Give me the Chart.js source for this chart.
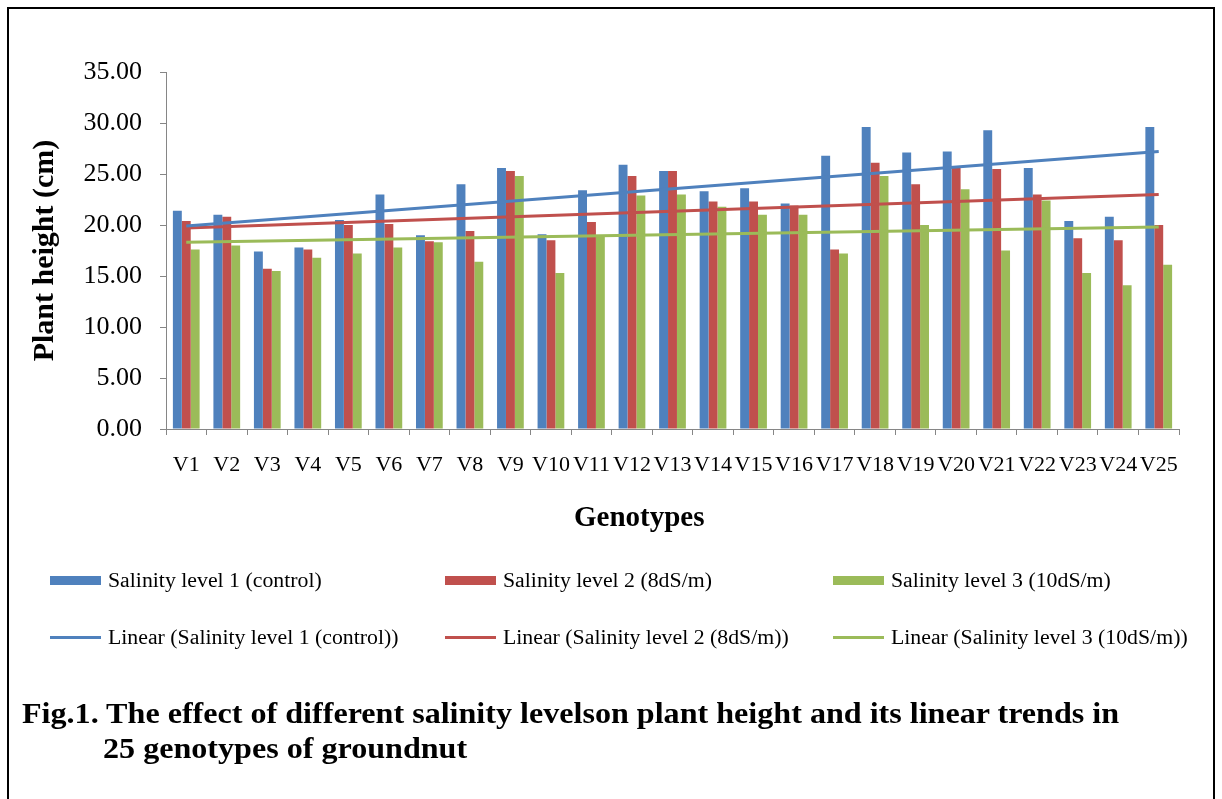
<!DOCTYPE html>
<html>
<head>
<meta charset="utf-8">
<title>Plant height under salinity</title>
<script src="https://cdn.jsdelivr.net/npm/chart.js@4.4.0/dist/chart.umd.min.js"></script>
<style>
  body { margin: 0; background: #fff; font-family: "Liberation Serif", "Times New Roman", serif; }
  #wrap { position: relative; width: 1222px; height: 799px; overflow: hidden; }
  #frame { position: absolute; left: 7px; top: 7px; width: 1208px; height: 800px; border: 2px solid #000; box-sizing: border-box; pointer-events: none; }
  #chartBox { position: absolute; left: 0; top: 0; width: 1222px; height: 799px; }
  .lg { position: absolute; display: flex; align-items: center; font-size: 20px; color: #000; white-space: nowrap; }
  .lg .sw { width: 51px; margin-right: 7px; flex: none; }
  .lg .tx { display: inline-block; transform: scaleX(1.09); transform-origin: left center; }
  #xTitle { position: absolute; left: 574px; top: 500px; font-weight: bold; font-size: 29px; color: #000; }
  .cap { position: absolute; font-weight: bold; font-size: 30px; color: #000; white-space: nowrap; transform: scaleX(1.07); transform-origin: left top; }
</style>
</head>
<body>
<div id="wrap">
  <div id="chartBox"><canvas id="chartHeight"></canvas></div>
  <div id="legend"></div>
  <div id="xTitle">Genotypes</div>
  <div class="cap" style="left:22px; top:696px;">Fig.1. The effect of different salinity levelson plant height and its linear trends in</div>
  <div class="cap" style="left:103px; top:731px;">25 genotypes of groundnut</div>
  <div id="frame"></div>
</div>
<script>
// genotypes and mean plant height (cm) per salinity level
const genotypes = ['V1','V2','V3','V4','V5','V6','V7','V8','V9','V10','V11','V12','V13',
                   'V14','V15','V16','V17','V18','V19','V20','V21','V22','V23','V24','V25'];
const level1 = [21.4, 21.0, 17.4, 17.8, 20.5, 23.0, 19.0, 24.0, 25.6, 19.1, 23.4, 25.9, 25.3,
                23.3, 23.6, 22.1, 26.8, 29.6, 27.1, 27.2, 29.3, 25.6, 20.4, 20.8, 29.6];
const level2 = [20.4, 20.8, 15.7, 17.6, 20.0, 20.1, 18.4, 19.4, 25.3, 18.5, 20.3, 24.8, 25.3,
                22.3, 22.3, 21.9, 17.6, 26.1, 24.0, 25.6, 25.5, 23.0, 18.7, 18.5, 20.0];
const level3 = [17.6, 18.0, 15.5, 16.8, 17.2, 17.8, 18.3, 16.4, 24.8, 15.3, 19.0, 22.9, 23.0,
                21.8, 21.0, 21.0, 17.2, 24.8, 20.0, 23.5, 17.5, 22.4, 15.3, 14.1, 16.1];

// linear trend values at V1 and V25 for each level
const trendStart = [19.9, 19.7, 18.3];
const trendEnd   = [27.2, 23.0, 19.8];

const seriesNames = ['Salinity level 1 (control)', 'Salinity level 2 (8dS/m)', 'Salinity level 3 (10dS/m)'];
const yTicks = [0, 5, 10, 15, 20, 25, 30, 35];

const colors = ['#4F81BD', '#C0504D', '#9BBB59'];
const axisGray = '#868686';

function trendLine(i) {
    const pts = genotypes.map(() => null);
    pts[0] = trendStart[i];
    pts[pts.length - 1] = trendEnd[i];
    return pts;
}

const barSets = [level1, level2, level3].map((vals, i) => ({
    type: 'bar',
    label: seriesNames[i],
    data: vals,
    backgroundColor: colors[i],
    borderWidth: 0,
    categoryPercentage: 0.66,
    barPercentage: 1.0,
    order: 2
}));

const lineSets = [0, 1, 2].map(i => ({
    type: 'line',
    label: 'Linear (' + seriesNames[i] + ')',
    data: trendLine(i),
    borderColor: colors[i],
    borderWidth: 3,
    pointRadius: 0,
    spanGaps: true,
    fill: false,
    order: 1
}));

const serif = '"Liberation Serif", "Times New Roman", serif';

const chart = new Chart(document.getElementById('chartHeight'), {
    data: { labels: genotypes, datasets: [...barSets, ...lineSets] },
    options: {
        responsive: true,
        maintainAspectRatio: false,
        animation: false,
        layout: { padding: { left: 8, right: 43, top: 72, bottom: 320 } },
        plugins: { legend: { display: false }, tooltip: { enabled: false } },
        scales: {
            x: {
                offset: true,
                grid: { display: true, drawOnChartArea: false, drawTicks: true, tickLength: 6, color: axisGray, offset: true },
                border: { color: axisGray, width: 1 },
                ticks: { font: { family: serif, size: 22 }, color: '#000', padding: 17, maxRotation: 0, autoSkip: false },
                afterFit: s => { s.height = 799 - 320 - 429; }
            },
            y: {
                min: 0,
                max: 35,
                afterBuildTicks: s => { s.ticks = yTicks.map(v => ({ value: v })); },
                afterFit: s => { s.width = 158; },
                grid: { display: true, drawOnChartArea: false, drawTicks: true, tickLength: 6, color: axisGray },
                border: { color: axisGray, width: 1 },
                ticks: { font: { family: serif, size: 26 }, color: '#000', padding: 18, callback: v => v.toFixed(2) },
                title: { display: true, text: 'Plant height (cm)', font: { family: serif, size: 30, weight: 'bold' }, color: '#000', padding: { top: 19, bottom: 0 } }
            }
        }
    }
});

// legend: bar series in the first row, trend lines in the second
const legendCols = [50, 445, 833];
const legendRows = [580, 637];
const legendEl = document.getElementById('legend');
chart.data.datasets.forEach((ds, i) => {
    const row = ds.type === 'bar' ? 0 : 1;
    const col = i % 3;
    const item = document.createElement('div');
    item.className = 'lg';
    item.style.left = legendCols[col] + 'px';
    item.style.top = (legendRows[row] - 12) + 'px';
    item.style.height = '24px';
    const sw = document.createElement('span');
    sw.className = 'sw';
    sw.style.height = row === 0 ? '9px' : '3px';
    sw.style.background = ds.type === 'bar' ? ds.backgroundColor : ds.borderColor;
    const txt = document.createElement('span');
    txt.className = 'tx';
    txt.textContent = ds.label;
    item.appendChild(sw);
    item.appendChild(txt);
    legendEl.appendChild(item);
});
</script>
</body>
</html>
